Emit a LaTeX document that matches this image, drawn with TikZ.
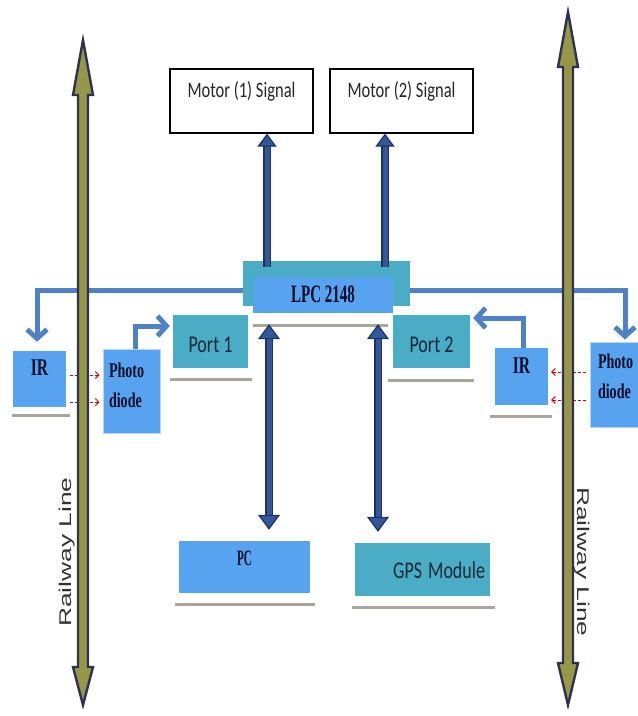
\documentclass[tikz,border=0pt]{standalone}
\usepackage{fontspec}
\setmainfont{Liberation Serif}
\newfontfamily\calfont{Carlito}
\newfontfamily\railfont{Liberation Sans}
\usetikzlibrary{arrows.meta, positioning}

\definecolor{boxblue}{RGB}{88,163,240}
\definecolor{portteal}{RGB}{75,172,198}
\definecolor{linkblue}{RGB}{79,129,199}
\definecolor{busnavy}{RGB}{30,50,95}
\definecolor{busblue}{RGB}{50,88,155}
\definecolor{railnavy}{RGB}{45,50,85}
\definecolor{railolive}{RGB}{150,152,72}
\definecolor{shadowgrey}{RGB}{170,164,158}
\definecolor{darktext}{RGB}{22,40,55}
\definecolor{navytext}{RGB}{10,12,40}

\newcommand{\narrow}[2][0.75]{\scalebox{#1}[1]{#2}}

\begin{document}
\begin{tikzpicture}[x=1pt, y=-1pt,
  sigbox/.style={draw=black, line width=1.2pt, fill=white, inner sep=0pt,
    minimum width=143pt, minimum height=64pt, text=black!85,
    font=\calfont\fontsize{22}{26}\selectfont, text height=15pt, text depth=22pt},
  tealbox/.style={fill=portteal, inner sep=0pt, text=darktext,
    font=\calfont\fontsize{24}{28}\selectfont},
  bluebox/.style={fill=boxblue, inner sep=0pt, text=navytext,
    font=\bfseries\fontsize{24}{28}\selectfont},
  diodebox/.style={bluebox, draw=white!55!boxblue, line width=1pt,
    font=\bfseries\fontsize{21}{30}\selectfont, align=left, text height=14pt},
  link/.style={draw=linkblue, line width=5pt, -{Straight Barb[length=9pt, width=20pt]}},
  beam/.style={draw=red!85!black, densely dashed, line width=1pt,
    -{Straight Barb[length=3.5pt, width=7pt]}, shorten <=4pt, shorten >=3pt},
  bus/.style={draw=busnavy, line width=1.5pt, double=busblue, double distance=5pt},
  busup/.style={bus, -{Triangle[length=13pt, width=19pt, fill=busblue, line width=1.2pt]},
    shorten <=-6pt},
  busboth/.style={bus, {Triangle[length=15pt, width=22pt, fill=busblue, line width=1.2pt]}-{Triangle[length=15pt, width=22pt, fill=busblue, line width=1.2pt]},
    shorten <=11pt, shorten >=11pt},
  shadowline/.style={draw=shadowgrey, line width=3pt},
  rail/.style={draw=railnavy, fill=railolive, line width=2.4pt},
  railtext/.style={font=\railfont\fontsize{17}{20}\selectfont, text=black!80, inner sep=0pt}]
\useasboundingbox (0,0) rectangle (638,716);

% boxes
\node[sigbox] (motor1) at (241.5,101) {\narrow{Motor (1) Signal}};
\node[sigbox] (motor2) at (401.5,101) {\narrow{Motor (2) Signal}};
\node[tealbox, minimum width=167pt, minimum height=45pt] (lpcbase) at (326.5,283.5) {};
\node[bluebox, minimum width=140pt, minimum height=36pt, font=\bfseries\fontsize{25}{28}\selectfont,
  text height=17pt, text depth=3pt] (lpc) at (323,295) {\narrow[0.6]{LPC 2148}};
\node[tealbox, minimum width=75pt, minimum height=53pt, text height=21pt, text depth=0pt]
  (port1) at (210.5,341.5) {\narrow{Port 1}};
\node[tealbox, minimum width=77pt, minimum height=53pt, text height=21pt, text depth=0pt]
  (port2) at (431.5,341.5) {\narrow{Port 2}};
\node[bluebox, minimum width=53pt, minimum height=56pt, text height=16pt, text depth=24pt]
  (irl) at (39.5,379) {\narrow[0.65]{IR}};
\node[bluebox, minimum width=53pt, minimum height=57pt, text height=16pt, text depth=23pt]
  (irr) at (521.5,376.5) {\narrow[0.65]{IR}};
\node[diodebox, minimum height=84pt, inner xsep=6pt, text width=45pt, text depth=42pt]
  (pdl) at (131.5,391) {\narrow[0.67]{Photo}\\\narrow[0.67]{diode}};
\node[diodebox, minimum height=85pt, inner xsep=8pt, text width=39pt, text depth=47pt]
  (pdr) at (617.5,384.5) {\narrow[0.67]{Photo}\\\narrow[0.67]{diode}};
\node[bluebox, minimum width=131pt, minimum height=52pt, font=\bfseries\fontsize{22}{26}\selectfont,
  text height=15pt, text depth=19pt] (pc) at (244.5,567) {\narrow[0.5]{PC}};
\node[tealbox, minimum height=53pt, inner xsep=5pt, text width=125pt, align=right,
  text height=17pt, text depth=0pt] (gps) at (422.5,569.5) {\narrow{GPS Module}};

% shadows under the boxes
\draw[shadowline] ([xshift=-1pt,yshift=-8pt]irl.south west) -- ([xshift=4pt,yshift=-8pt]irl.south east);
\draw[shadowline] ([xshift=-5pt,yshift=-11pt]irr.south west) -- ([xshift=4pt,yshift=-11pt]irr.south east);
\draw[shadowline] ([xshift=-3pt,yshift=-11pt]port1.south west) -- ([xshift=4pt,yshift=-11pt]port1.south east);
\draw[shadowline] ([xshift=-5pt,yshift=-12pt]port2.south west) -- ([xshift=4pt,yshift=-12pt]port2.south east);
\draw[shadowline] ([yshift=-12pt]lpc.south west) -- ([xshift=-5pt,yshift=-12pt]lpc.south east);
\draw[shadowline] ([xshift=-4pt,yshift=-11pt]pc.south west) -- ([xshift=5pt,yshift=-11pt]pc.south east);
\draw[shadowline] ([xshift=-3pt,yshift=-11pt]gps.south west) -- ([xshift=5pt,yshift=-11pt]gps.south east);

% sensor links
\draw[link, shorten >=9pt] ([yshift=-6.5pt]lpcbase.west) -| ([xshift=-2.5pt]irl.north);
\draw[link, shorten >=2pt] ([yshift=-6.5pt]lpcbase.east) -| ([xshift=7.5pt]pdr.north);
\draw[link, shorten >=3pt] ([xshift=3.5pt]pdl.north) |- ([yshift=15.5pt]port1.west);
\draw[link, shorten >=3pt] ([xshift=1.5pt]irr.north) |- ([yshift=23.5pt]port2.east);

% infrared beams
\draw[beam] ([yshift=4pt]irl.east) -- ([yshift=4pt]irl.east -| pdl.west);
\draw[beam] ([yshift=-23pt]irl.east) -- ([yshift=-23pt]irl.east -| pdl.west);
\draw[beam] ([yshift=4.5pt]irr.east -| pdr.west) -- ([yshift=4.5pt]irr.east);
\draw[beam] ([yshift=-23.5pt]irr.east -| pdr.west) -- ([yshift=-23.5pt]irr.east);

% railway tracks
\filldraw[rail] (83,40) -- (93,95) -- (88,95) -- (88,667) -- (93,667) -- (83,705)
  -- (73,667) -- (78,667) -- (78,95) -- (73,95) -- cycle;
\filldraw[rail] (568,12) -- (578,67) -- (573,67) -- (573,663) -- (578,663) -- (568,705)
  -- (558,663) -- (563,663) -- (563,67) -- (558,67) -- cycle;
\node[railtext, rotate=90] (raill) at (67,552) {\scalebox{1.55}[1]{Railway Line}};
\node[railtext, rotate=-90] (railr) at (582,562) {\scalebox{1.55}[1]{Railway Line}};

% controller buses
\draw[busup] ([xshift=25.5pt]motor1.south |- lpcbase.north) -- ([xshift=25.5pt]motor1.south);
\draw[busup] ([xshift=-16.5pt]motor2.south |- lpcbase.north) -- ([xshift=-16.5pt]motor2.south);
\draw[busboth] ([xshift=24.5pt]pc.north |- lpc.south) -- ([xshift=24.5pt]pc.north);
\draw[busboth] ([xshift=-44.5pt]gps.north |- lpc.south) -- ([xshift=-44.5pt]gps.north);
\end{tikzpicture}
\end{document}
